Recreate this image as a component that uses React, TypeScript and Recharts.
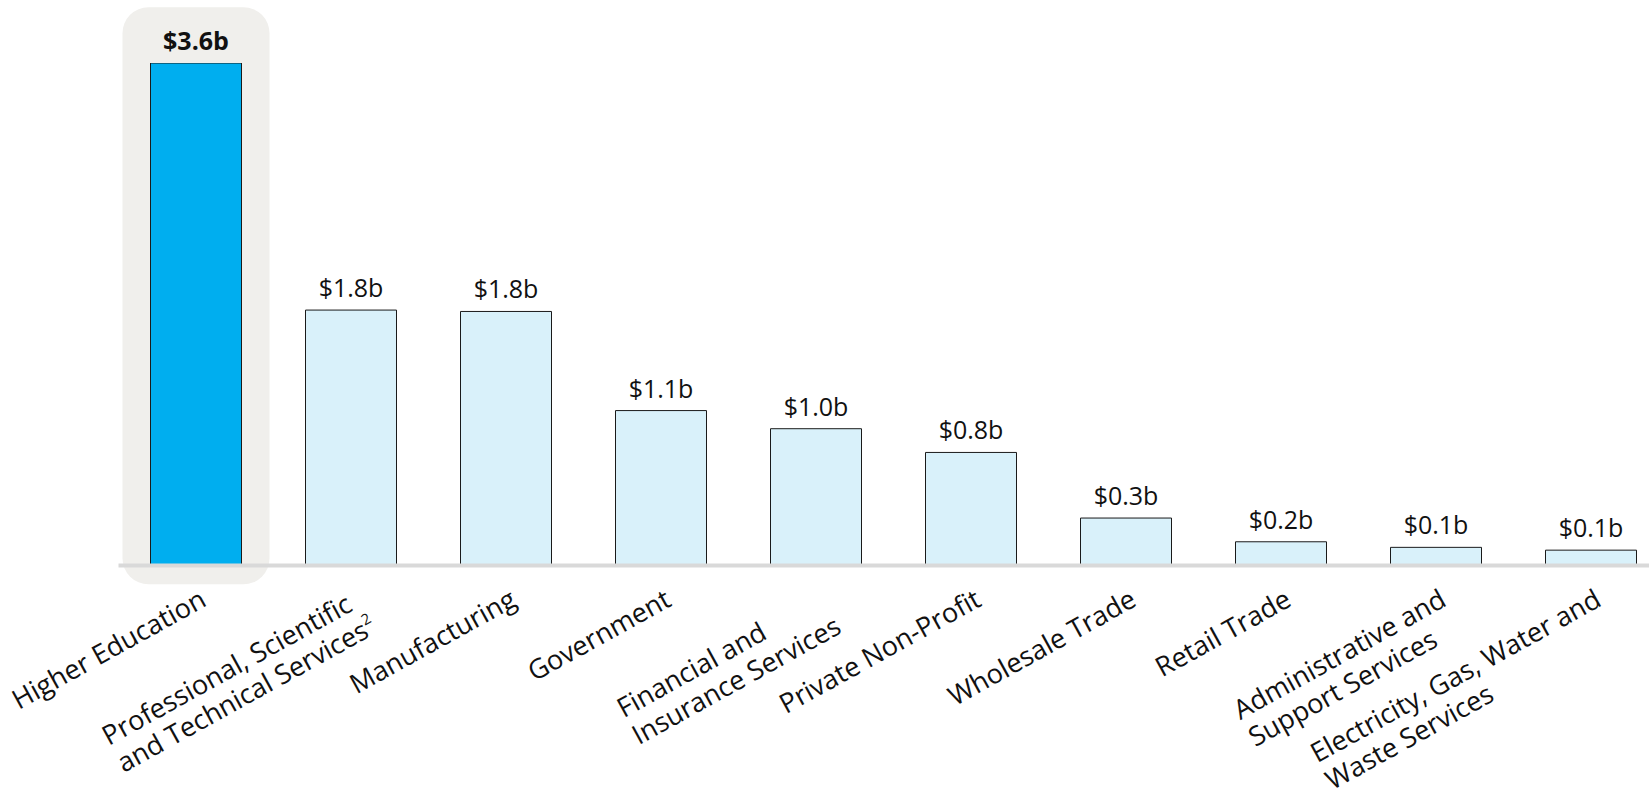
import React from 'react';
import { BarChart, Bar, XAxis, YAxis, Cell, LabelList, ReferenceArea, ReferenceLine } from 'recharts';

const categories = [
  'Higher Education',
  'Professional, Scientific and Technical Services',
  'Manufacturing',
  'Government',
  'Financial and Insurance Services',
  'Private Non-Profit',
  'Wholesale Trade',
  'Retail Trade',
  'Administrative and Support Services',
  'Electricity, Gas, Water and Waste Services',
];
const values = [3.6, 1.83, 1.82, 1.11, 0.98, 0.81, 0.34, 0.17, 0.13, 0.11];
const valueLabels = ['$3.6b', '$1.8b', '$1.8b', '$1.1b', '$1.0b', '$0.8b', '$0.3b', '$0.2b', '$0.1b', '$0.1b'];
const tickLines = [
  ['Higher Education'],
  ['Professional, Scientific', 'and Technical Services'],
  ['Manufacturing'],
  ['Government'],
  ['Financial and', 'Insurance Services'],
  ['Private Non-Profit'],
  ['Wholesale Trade'],
  ['Retail Trade'],
  ['Administrative and', 'Support Services'],
  ['Electricity, Gas, Water and', 'Waste Services'],
];
const tickSup = ['', '2', '', '', '', '', '', '', '', ''];

const data = categories.map((name, i) => ({ name, value: values[i], label: valueLabels[i] }));

const FONT = '"Open Sans", Lato, sans-serif';
const TICK_SIZE = 27;
const SUP_SIZE = 15;
const LINE_H = 31;
const LABEL_Y = 605;
const LABEL_DX = 12;
const ANGLE = -29;
const HIGHLIGHT = '#00aeef';
const LIGHT = '#d9f1fa';

let ctx: CanvasRenderingContext2D | null = null;
function measure(text: string, size: number, weight = 400) {
  if (!ctx) ctx = document.createElement('canvas').getContext('2d');
  if (!ctx) return text.length * size * 0.55;
  ctx.font = `${weight} ${size}px "Open Sans"`;
  return ctx.measureText(text).width;
}

const CategoryTick = (props: any) => {
  const { x, payload } = props;
  const i = categories.indexOf(payload.value);
  const lines = tickLines[i] || [payload.value];
  const sup = tickSup[i];
  const widths = lines.map(
    (l, k) => measure(l, TICK_SIZE) + (k === lines.length - 1 && sup ? measure(sup, SUP_SIZE) : 0)
  );
  const maxW = Math.max(...widths);
  return (
    <g transform={`translate(${x + LABEL_DX},${LABEL_Y}) rotate(${ANGLE})`}>
      <text x={-maxW} y={0} fontSize={TICK_SIZE} fontFamily={FONT} fill="#111" textAnchor="start">
        {lines.map((l, k) => (
          <tspan key={k} x={-maxW} dy={k === 0 ? 0 : LINE_H}>
            {l}
            {k === lines.length - 1 && sup ? (
              <tspan dy={-12} fontSize={SUP_SIZE}>
                {sup}
              </tspan>
            ) : null}
          </tspan>
        ))}
      </text>
    </g>
  );
};

const ValueLabel = (props: any) => {
  const { x, y, width, index } = props;
  return (
    <text
      x={x + width / 2}
      y={y - 13}
      textAnchor="middle"
      fontSize={25}
      fontFamily={FONT}
      fontWeight={index === 0 ? 700 : 400}
      fill="#111"
    >
      {valueLabels[index]}
    </text>
  );
};

export default function App() {
  return (
    <div
      style={{
        position: 'absolute',
        left: 0,
        top: 0,
        width: 1649,
        height: 798,
        overflow: 'hidden',
        background: '#fff',
      }}
    >
      <BarChart
        width={1669}
        height={798}
        data={data}
        margin={{ top: 63, right: 0.5, bottom: 0, left: 118.5 }}
        barSize={91}
      >
        <YAxis hide domain={[0, 3.6]} type="number" allowDataOverflow />
        <XAxis
          dataKey="name"
          height={232.5}
          axisLine={false}
          tickLine={false}
          interval={0}
          tick={<CategoryTick />}
        />
        <ReferenceArea
          x1={categories[0]}
          x2={categories[0]}
          y1={-0.135}
          y2={4.0}
          ifOverflow="visible"
          shape={(p: any) => (
            <rect x={p.x + 4} y={p.y} width={p.width - 8} height={p.height} rx={26} ry={26} fill="#f0efec" />
          )}
        />
        <Bar dataKey="value" stroke="#1a1a1a" strokeWidth={1} isAnimationActive={false}>
          {data.map((d, i) => (
            <Cell key={i} fill={i === 0 ? HIGHLIGHT : LIGHT} />
          ))}
          <LabelList dataKey="label" content={<ValueLabel />} />
        </Bar>
        <ReferenceLine y={0} stroke="#d9d9d9" strokeWidth={4} ifOverflow="visible" />
      </BarChart>
    </div>
  );
}
